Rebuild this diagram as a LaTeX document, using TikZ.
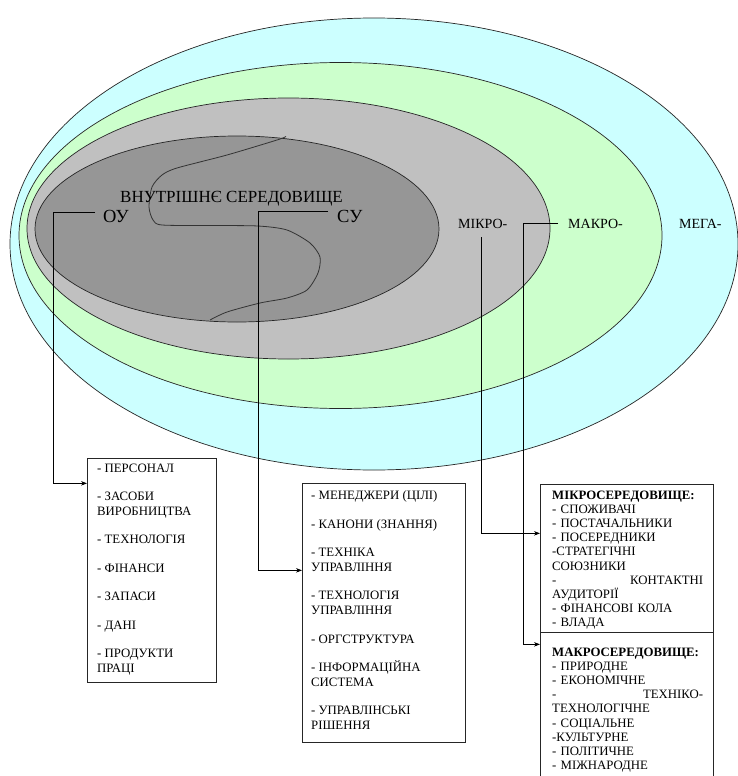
\documentclass[tikz,border=0pt]{standalone}
\usepackage{fontspec}
\setmainfont{Liberation Serif}
\usetikzlibrary{arrows.meta}
\definecolor{megac}{HTML}{CCFFFF}
\definecolor{makroc}{HTML}{CCFFCC}
\definecolor{mikroc}{HTML}{C0C0C0}
\definecolor{innerc}{HTML}{969696}
\tikzset{
  ring/.style={draw=black!85, line width=0.7pt},
  arr/.style={draw=black, line width=0.6pt, -{Stealth[length=6pt,width=4.5pt]}},
  boxst/.style={draw=black!85, line width=0.7pt, fill=white, inner sep=0pt, anchor=north west},
  bigl/.style={inner sep=0pt, anchor=base west, font=\fontsize{18.5}{20}\selectfont},
  midl/.style={inner sep=0pt, anchor=base west, font=\fontsize{17}{19}\selectfont},
  envl/.style={inner sep=0pt, anchor=base west, font=\fontsize{14}{16}\selectfont},
  boxtext/.style={inner sep=0pt, anchor=north west, align=left, font=\fontsize{12.8}{14.8}\selectfont},
  listtext/.style={inner sep=0pt, anchor=north west, align=left, text width=151pt, font=\fontsize{12.8}{14.2}\selectfont}
}
\begin{document}
\begin{tikzpicture}[x=1pt,y=-1pt]
\useasboundingbox (0,0) rectangle (737,776);
\fill[white] (0,0) rectangle (737,776);
% environments
\filldraw[ring, fill=megac] (374,244) ellipse [x radius=364pt, y radius=226pt];
\filldraw[ring, fill=makroc] (340.5,235.5) ellipse [x radius=321.5pt, y radius=173pt];
\filldraw[ring, fill=mikroc] (288.5,228.5) ellipse [x radius=261.5pt, y radius=130.5pt];
\filldraw[ring, fill=innerc] (237,229) ellipse [x radius=202pt, y radius=93pt];
% S-shaped border between subsystems
\draw[line width=0.8pt, black!80] plot[smooth, tension=0.45] coordinates {
 (286,136.5) (277,140) (227,155) (177,168) (162,175) (152,187) (149,207) (153,220) (162,225)
 (210,225.5) (258,226) (287,230) (310,243) (320,257) (318,273) (307,290) (287,298) (260,303) (227,312) (210,320)};
% labels
\node[midl] (inner) at (120,202) {ВНУТРІШНЄ СЕРЕДОВИЩЕ};
\node[bigl] (ou) at (103,222) {ОУ};
\node[bigl] (su) at (337,222) {СУ};
\node[envl] (mikro) at (458,228) {МІКРО-};
\node[envl] (makro) at (568,228) {МАКРО-};
\node[envl] (mega) at (679,228) {МЕГА-};
% boxes
\node[boxst, minimum width=129pt, minimum height=224pt] (box1) at (87,458) {};
\node[boxst, minimum width=163pt, minimum height=259pt] (box2) at (302,483) {};
\node[boxst, minimum width=173pt, minimum height=148pt] (boxmicro) at (540,484) {};
\node[boxst, minimum width=173pt, minimum height=146pt] (boxmacro) at (540,632) {};
% box texts
\node[boxtext] (t1) at (97,463.5) {- ПЕРСОНАЛ\\[13.7pt]
- ЗАСОБИ\\ВИРОБНИЦТВА\\[13.7pt]
- ТЕХНОЛОГІЯ\\[13.7pt]
- ФІНАНСИ\\[13.7pt]
- ЗАПАСИ\\[13.7pt]
- ДАНІ\\[13.7pt]
- ПРОДУКТИ\\ПРАЦІ};
\node[boxtext] (t2) at (311,490.5) {- МЕНЕДЖЕРИ (ЦІЛІ)\\[13.7pt]
- КАНОНИ (ЗНАННЯ)\\[13.7pt]
- ТЕХНІКА\\УПРАВЛІННЯ\\[13.7pt]
- ТЕХНОЛОГІЯ\\УПРАВЛІННЯ\\[13.7pt]
- ОРГСТРУКТУРА\\[13.7pt]
- ІНФОРМАЦІЙНА\\СИСТЕМА\\[13.7pt]
- УПРАВЛІНСЬКІ\\РІШЕННЯ};
\node[listtext] (t3) at (552,490.5) {\textbf{МІКРОСЕРЕДОВИЩЕ:}\\
- СПОЖИВАЧІ\\
- ПОСТАЧАЛЬНИКИ\\
- ПОСЕРЕДНИКИ\\
-СТРАТЕГІЧНІ\\
СОЮЗНИКИ\\
-\hfill КОНТАКТНІ\\
АУДИТОРІЇ\\
- ФІНАНСОВІ КОЛА\\
- ВЛАДА};
\node[listtext] (t4) at (552,647.5) {\textbf{МАКРОСЕРЕДОВИЩЕ:}\\
- ПРИРОДНЕ\\
- ЕКОНОМІЧНЕ\\
-\hfill ТЕХНІКО-\\
ТЕХНОЛОГІЧНЕ\\
- СОЦІАЛЬНЕ\\
-КУЛЬТУРНЕ\\
- ПОЛІТИЧНЕ\\
- МІЖНАРОДНЕ};
% connectors
\draw[arr] ([xshift=-8pt,yshift=10pt]ou.base west) -- ++(-42,0) |- ([yshift=87pt]box1.west);
\draw[arr] ([xshift=-9pt,yshift=11pt]su.base west) -- ++(-70,0) |- ([yshift=42.5pt]box2.west);
\draw[arr] ([xshift=-1pt,yshift=-9pt]mikro.base) |- ([yshift=25pt]boxmicro.west);
\draw[arr] ([xshift=-10pt,yshift=5pt]makro.base west) -- ++(-35,0) |- ([yshift=61pt]boxmacro.west);
\end{tikzpicture}
\end{document}
